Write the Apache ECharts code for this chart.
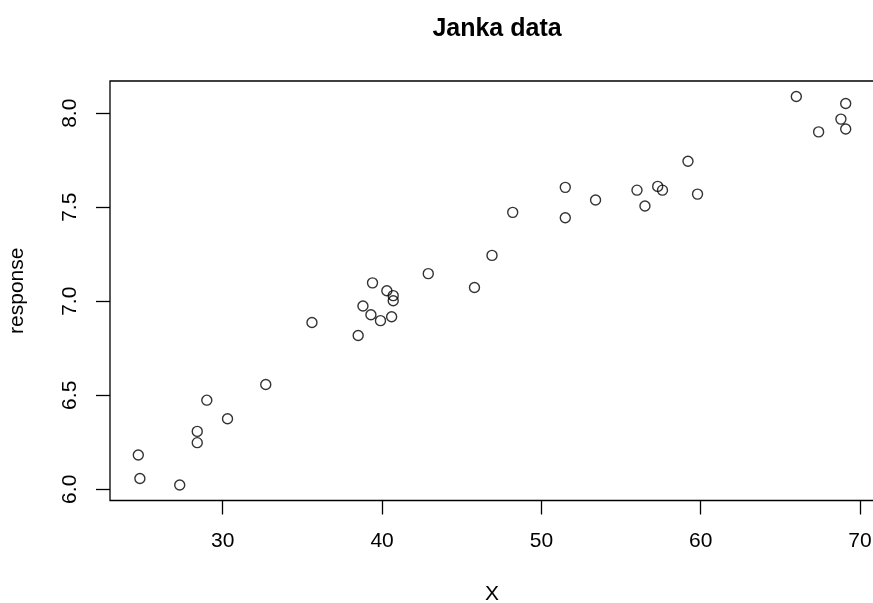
<!DOCTYPE html>
<html>
<head>
<meta charset="utf-8">
<script src="https://cdn.jsdelivr.net/npm/echarts@6/dist/echarts.min.js"></script>
<style>
  html, body { margin: 0; padding: 0; background: #fff; }
  #chart { width: 873px; height: 603px; }
</style>
</head>
<body>
<div id="chart"></div>
<script>
// Janka hardness: wood density (X) against log hardness (response)
const density = [24.7, 24.8, 27.3, 28.4, 28.4, 29.0, 30.3, 32.7, 35.6, 38.5, 38.8, 39.3,
                 39.4, 39.9, 40.3, 40.6, 40.7, 40.7, 42.9, 45.8, 46.9, 48.2, 51.5, 51.5,
                 53.4, 56.0, 56.5, 57.3, 57.6, 59.2, 59.8, 66.0, 67.4, 68.8, 69.1, 69.1];
const response = [6.182, 6.057, 6.023, 6.248, 6.308, 6.474, 6.375, 6.557, 6.887, 6.818, 6.975, 6.928,
                  7.098, 6.897, 7.056, 6.918, 7.003, 7.030, 7.147, 7.073, 7.244, 7.473, 7.444, 7.606,
                  7.539, 7.591, 7.507, 7.611, 7.591, 7.745, 7.570, 8.089, 7.901, 7.969, 7.916, 8.052];
const xTicks = [30, 40, 50, 60, 70];
const yTicks = [6.0, 6.5, 7.0, 7.5, 8.0];

// pad the data range by 4% on each side
function padded(v) {
  const lo = Math.min(...v), hi = Math.max(...v), d = (hi - lo) * 0.04;
  return [lo - d, hi + d];
}
const [xMin, xMax] = padded(density);
const [yMin, yMax] = padded(response);

const font = '"Liberation Sans", Arial, sans-serif';
const chart = echarts.init(document.getElementById('chart'), null, { renderer: 'canvas' });

chart.setOption({
  animation: false,
  backgroundColor: '#ffffff',
  title: {
    text: 'Janka data',
    left: 492, top: 12, textAlign: 'center',
    textStyle: { fontFamily: font, fontWeight: 'bold', fontSize: 25, color: '#000' }
  },
  // the plot box runs slightly past the right edge of the page
  grid: {
    left: 110, right: -1, top: 81, bottom: 102.5,
    containLabel: false, outerBoundsMode: 'none',
    show: true, borderColor: '#000', borderWidth: 1.3, backgroundColor: 'transparent'
  },
  xAxis: {
    type: 'value', min: xMin, max: xMax,
    name: 'X', nameLocation: 'middle', nameGap: 83,
    nameTextStyle: { fontFamily: font, fontSize: 21, color: '#000' },
    axisLine: { show: false },
    splitLine: { show: false },
    axisTick: { show: true, length: 14, inside: false, customValues: xTicks,
                lineStyle: { color: '#000', width: 1.3 } },
    axisLabel: { customValues: xTicks, margin: 30, fontFamily: font, fontSize: 21, color: '#000',
                 formatter: v => String(v) }
  },
  yAxis: {
    type: 'value', min: yMin, max: yMax,
    name: 'response', nameLocation: 'middle', nameGap: 82, nameRotate: 90,
    nameTextStyle: { fontFamily: font, fontSize: 21, color: '#000' },
    axisLine: { show: false },
    splitLine: { show: false },
    axisTick: { show: true, length: 14, inside: false, customValues: yTicks,
                lineStyle: { color: '#000', width: 1.3 } },
    axisLabel: { customValues: yTicks, rotate: 90, margin: 29, fontFamily: font, fontSize: 21,
                 color: '#000', formatter: v => v.toFixed(1) }
  },
  series: [{
    type: 'scatter',
    data: density.map((x, i) => [x, response[i]]),
    symbol: 'circle',
    symbolSize: 10,
    itemStyle: { color: 'transparent', borderColor: '#000', borderWidth: 1.4 }
  }]
});
</script>
</body>
</html>
